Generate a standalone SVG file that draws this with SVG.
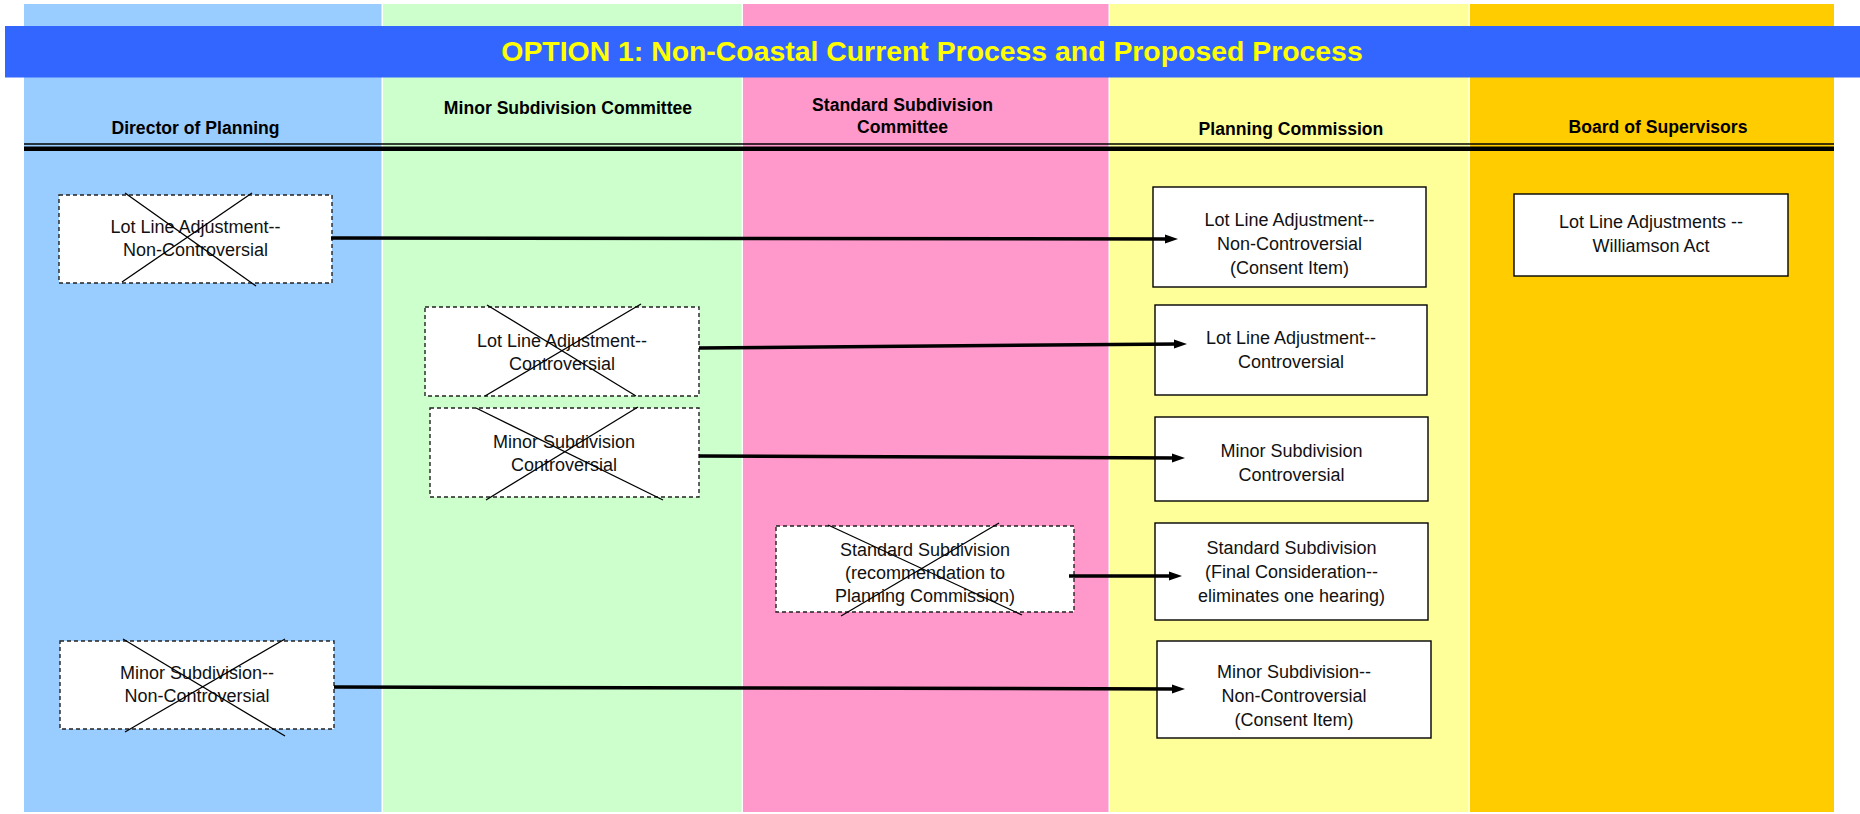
<svg xmlns="http://www.w3.org/2000/svg" width="1860" height="814" viewBox="0 0 1860 814">
<style>
.hdr{font-family:"Liberation Sans",Arial,sans-serif;font-weight:bold;font-size:17.6px;fill:#000;text-anchor:middle}
.txt{font-family:"Liberation Sans",Arial,sans-serif;font-size:18px;fill:#111;text-anchor:middle}
.box{fill:#fff;stroke:#000;stroke-width:1.4}
.dbox{fill:#fff;stroke:#222;stroke-width:1.4;stroke-dasharray:4 3}
.x{stroke:#000;stroke-width:1.3;fill:none}
.arr{stroke:#000;stroke-width:3.5;fill:none;marker-end:url(#ah)}
</style>
<defs>
<marker id="ah" markerUnits="userSpaceOnUse" markerWidth="13" markerHeight="10" refX="5" refY="5" orient="auto">
<path d="M0,0.5 L13,5 L0,9.5 z" fill="#000"/>
</marker>
</defs>
<rect x="0" y="0" width="1860" height="814" fill="#fff"/>
<g id="lanes">
<rect x="24" y="4" width="357.5" height="808" fill="#99CCFF"/>
<rect x="383" y="4" width="358.5" height="808" fill="#CCFFCC"/>
<rect x="743" y="4" width="365.5" height="808" fill="#FF99CC"/>
<rect x="1110" y="4" width="358.5" height="808" fill="#FFFF99"/>
<rect x="1470" y="4" width="364" height="808" fill="#FFCC00"/>
</g>
<g id="title">
<rect x="5" y="26" width="1855" height="51.5" fill="#3366FF"/>
<text x="932" y="61" font-family="Liberation Sans,Arial,sans-serif" font-weight="bold" font-size="28.4px" fill="#FFFF00" text-anchor="middle">OPTION 1: Non-Coastal Current Process and Proposed Process</text>
</g>
<g id="headers">
<text class="hdr" x="195.5" y="134">Director of Planning</text>
<text class="hdr" x="568" y="114">Minor Subdivision Committee</text>
<text class="hdr" x="902.5" y="111">Standard Subdivision</text>
<text class="hdr" x="902.5" y="133">Committee</text>
<text class="hdr" x="1291" y="135">Planning Commission</text>
<text class="hdr" x="1658" y="133">Board of Supervisors</text>
<line x1="24" y1="144" x2="1834" y2="144" stroke="#000" stroke-width="1.5"/>
<line x1="24" y1="148.7" x2="1834" y2="148.7" stroke="#000" stroke-width="4.6"/>
</g>
<g id="dir-lla-nc">
<rect class="dbox" x="59" y="195" width="273" height="88"/>
<text class="txt" x="195.5" y="233">Lot Line Adjustment--</text>
<text class="txt" x="195.5" y="256">Non-Controversial</text>
<line class="x" x1="125" y1="193" x2="256" y2="286"/>
<line class="x" x1="252" y1="193" x2="122" y2="282"/>
</g>
<g id="msc-lla-c">
<rect class="dbox" x="425" y="307" width="274" height="89"/>
<text class="txt" x="562" y="347">Lot Line Adjustment--</text>
<text class="txt" x="562" y="370">Controversial</text>
<line class="x" x1="487" y1="305" x2="636" y2="396"/>
<line class="x" x1="641" y1="304" x2="485" y2="396"/>
</g>
<g id="msc-ms-c">
<rect class="dbox" x="430" y="408" width="269" height="89"/>
<text class="txt" x="564" y="448">Minor Subdivision</text>
<text class="txt" x="564" y="471">Controversial</text>
<line class="x" x1="476" y1="408" x2="663" y2="500"/>
<line class="x" x1="638" y1="407" x2="486" y2="500"/>
</g>
<g id="ssc-ss">
<rect class="dbox" x="776" y="526" width="298" height="86"/>
<text class="txt" x="925" y="556">Standard Subdivision</text>
<text class="txt" x="925" y="579">(recommendation to</text>
<text class="txt" x="925" y="602">Planning Commission)</text>
<line class="x" x1="828" y1="525" x2="1022" y2="615"/>
<line class="x" x1="999" y1="523" x2="841" y2="616"/>
</g>
<g id="dir-ms-nc">
<rect class="dbox" x="60" y="641" width="274" height="88"/>
<text class="txt" x="197" y="679">Minor Subdivision--</text>
<text class="txt" x="197" y="702">Non-Controversial</text>
<line class="x" x1="123" y1="639" x2="285" y2="736"/>
<line class="x" x1="285" y1="639" x2="125" y2="732"/>
</g>
<g id="pc-lla-nc">
<rect class="box" x="1153" y="187" width="273" height="100"/>
<text class="txt" x="1289.5" y="226">Lot Line Adjustment--</text>
<text class="txt" x="1289.5" y="250">Non-Controversial</text>
<text class="txt" x="1289.5" y="274">(Consent Item)</text>
</g>
<g id="pc-lla-c">
<rect class="box" x="1155" y="305" width="272" height="90"/>
<text class="txt" x="1291" y="344">Lot Line Adjustment--</text>
<text class="txt" x="1291" y="368">Controversial</text>
</g>
<g id="pc-ms-c">
<rect class="box" x="1155" y="417" width="273" height="84"/>
<text class="txt" x="1291.5" y="457">Minor Subdivision</text>
<text class="txt" x="1291.5" y="481">Controversial</text>
</g>
<g id="pc-ss">
<rect class="box" x="1155" y="523" width="273" height="97"/>
<text class="txt" x="1291.5" y="554">Standard Subdivision</text>
<text class="txt" x="1291.5" y="578">(Final Consideration--</text>
<text class="txt" x="1291.5" y="602">eliminates one hearing)</text>
</g>
<g id="pc-ms-nc">
<rect class="box" x="1157" y="641" width="274" height="97"/>
<text class="txt" x="1294" y="678">Minor Subdivision--</text>
<text class="txt" x="1294" y="702">Non-Controversial</text>
<text class="txt" x="1294" y="726">(Consent Item)</text>
</g>
<g id="bos-lla-wa">
<rect class="box" x="1514" y="194" width="274" height="82"/>
<text class="txt" x="1651" y="228">Lot Line Adjustments --</text>
<text class="txt" x="1651" y="252">Williamson Act</text>
</g>
<g id="connectors">
<line class="arr" x1="331" y1="238" x2="1170" y2="239"/>
<line class="arr" x1="699" y1="348" x2="1179" y2="344"/>
<line class="arr" x1="699" y1="456" x2="1177" y2="458"/>
<line class="arr" x1="1069" y1="576" x2="1174" y2="576"/>
<line class="arr" x1="334" y1="687" x2="1177" y2="689"/>
</g>
</svg>
